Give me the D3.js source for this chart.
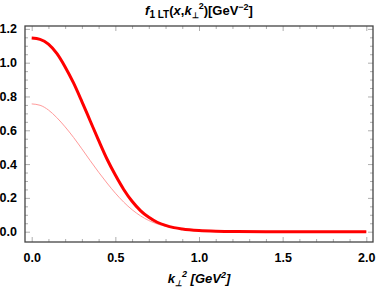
<!DOCTYPE html>
<html><head><meta charset="utf-8">
<script src="https://cdn.jsdelivr.net/npm/d3@7"></script>
<style>
html,body{margin:0;padding:0;background:#fff;}
text{font-family:"Liberation Sans",Arial,sans-serif;}
</style></head>
<body><svg id="c" width="378" height="289"></svg>
<script>
const kSq = [0,0.05,0.1,0.15,0.2,0.25,0.3,0.35,0.4,0.45,0.5,0.55,0.6,0.65,0.7,0.75,0.8,0.85,0.9,1.0,1.1,1.2,1.4,1.6,1.8,2.0];
const thickVals = [1.146,1.138,1.11,1.055,0.975,0.88,0.77,0.655,0.54,0.43,0.335,0.25,0.18,0.125,0.085,0.056,0.037,0.024,0.016,0.007,0.003,0.0015,0.0003,0,0,0];
const thinVals = [0.756,0.748,0.72,0.675,0.62,0.558,0.49,0.42,0.352,0.288,0.228,0.175,0.13,0.094,0.066,0.046,0.032,0.022,0.015,0.007,0.003,0.0015,0.0003,0,0,0];
const xTicks = [0,0.5,1.0,1.5,2.0];
const yTicks = [0,0.2,0.4,0.6,0.8,1.0,1.2];

const svg = d3.select("#c");
const L=25,R=373,T=26,B=242;
const x = d3.scaleLinear().domain([-0.04,2.04]).range([L,R]);
const y = d3.scaleLinear().domain([-0.061,1.217]).range([B,T]);

const xMinor = d3.range(0,2.0001,0.1).filter(v=>!xTicks.some(t=>Math.abs(t-v)<1e-6));
const yMinor = d3.range(0,1.2001,0.05).filter(v=>!yTicks.some(t=>Math.abs(t-v)<1e-6));

function tickAxis(axisFn, scale, pos, vals, size){
  const g = svg.append("g").attr("transform", pos)
    .call(axisFn(scale).tickValues(vals).tickSize(size).tickFormat(""));
  g.select(".domain").remove();
  g.selectAll("line").attr("stroke","#999").attr("stroke-width",0.8);
  return g;
}
tickAxis(d3.axisTop, x, `translate(0,${B})`, xTicks, 5);
tickAxis(d3.axisTop, x, `translate(0,${B})`, xMinor, 3);
tickAxis(d3.axisBottom, x, `translate(0,${T})`, xTicks, 5);
tickAxis(d3.axisBottom, x, `translate(0,${T})`, xMinor, 3);
tickAxis(d3.axisRight, y, `translate(${L},0)`, yTicks, 5);
tickAxis(d3.axisRight, y, `translate(${L},0)`, yMinor, 3);
tickAxis(d3.axisLeft, y, `translate(${R},0)`, yTicks, 5);
tickAxis(d3.axisLeft, y, `translate(${R},0)`, yMinor, 3);

const xl = svg.append("g").attr("transform",`translate(0,${B})`)
  .call(d3.axisBottom(x).tickValues(xTicks).tickSize(0).tickPadding(11).tickFormat(d3.format(".1f")));
xl.select(".domain").remove();
xl.selectAll("text").attr("font-size",12.5).attr("font-weight","bold").attr("fill","#000")
  .attr("font-family","Liberation Sans, Arial, sans-serif");
const yl = svg.append("g").attr("transform",`translate(${L},0)`)
  .call(d3.axisLeft(y).tickValues(yTicks).tickSize(0).tickPadding(8).tickFormat(d3.format(".1f")));
yl.select(".domain").remove();
yl.selectAll("text").attr("font-size",12.5).attr("font-weight","bold").attr("fill","#000")
  .attr("font-family","Liberation Sans, Arial, sans-serif");

const line = (vals)=>d3.line().x((d,i)=>x(kSq[i])).y(d=>y(d)).curve(d3.curveMonotoneX)(vals);
svg.append("path").attr("d",line(thinVals)).attr("fill","none").attr("stroke","#ff9a9a").attr("stroke-width",1);
svg.append("path").attr("d",line(thickVals)).attr("fill","none").attr("stroke","#ff0000").attr("stroke-width",3);

svg.append("rect").attr("x",L).attr("y",T).attr("width",R-L).attr("height",B-T)
  .attr("fill","none").attr("stroke","#444").attr("stroke-width",1.3);

const t = svg.append("text").attr("x",199).attr("y",15).attr("text-anchor","middle")
  .attr("font-size",13).attr("font-weight","bold");
t.append("tspan").attr("font-style","italic").text("f");
t.append("tspan").attr("font-size",10).attr("dy",3).text("1 LT");
t.append("tspan").attr("dy",-3).text("(");
t.append("tspan").attr("font-style","italic").text("x");
t.append("tspan").text(",");
t.append("tspan").attr("font-style","italic").text("k");
t.append("tspan").attr("font-size",8).attr("dy",3).text("⊥");
t.append("tspan").attr("font-size",9).attr("dy",-9).text("2");
t.append("tspan").attr("dy",6).text(")[GeV");
t.append("tspan").attr("font-size",9).attr("dy",-5).text("−2");
t.append("tspan").attr("dy",5).text("]");

const xt = svg.append("text").attr("x",199).attr("y",283).attr("text-anchor","middle")
  .attr("font-size",13).attr("font-weight","bold").attr("font-style","italic");
xt.append("tspan").text("k");
xt.append("tspan").attr("font-size",8).attr("dy",3).text("⊥");
xt.append("tspan").attr("font-size",9).attr("dy",-9).text("2");
xt.append("tspan").attr("dy",6).text(" [GeV");
xt.append("tspan").attr("font-size",9).attr("dy",-5).text("2");
xt.append("tspan").attr("dy",5).text("]");
</script></body></html>
